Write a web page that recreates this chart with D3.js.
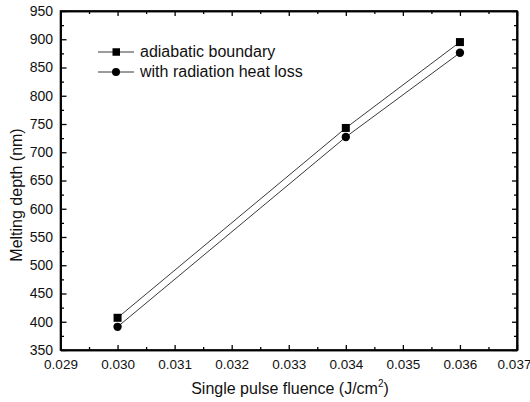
<!DOCTYPE html>
<html>
<head>
<meta charset="utf-8">
<script src="https://cdn.jsdelivr.net/npm/d3@7"></script>
<style>
  html, body { margin: 0; padding: 0; background: #fff; }
  svg { display: block; font-family: "Liberation Sans", Arial, sans-serif; }
</style>
</head>
<body>
<svg id="chart" width="530" height="402"></svg>
<script>
// Melting depth vs single pulse fluence for two boundary conditions
const fluence = [0.030, 0.034, 0.036];
const adiabatic = [407, 743, 895];
const radiation = [391, 727, 876];
const seriesNames = ["adiabatic boundary", "with radiation heat loss"];
const xTicks = [0.029, 0.030, 0.031, 0.032, 0.033, 0.034, 0.035, 0.036, 0.037];
const yTicks = [350, 400, 450, 500, 550, 600, 650, 700, 750, 800, 850, 900, 950];

const svg = d3.select("#chart");
const m = { left: 60.5, right: 517, top: 11, bottom: 350 };

const x = d3.scaleLinear().domain([0.029, 0.037]).range([m.left, m.right]);
const y = d3.scaleLinear().domain([350, 950]).range([m.bottom, m.top]);

const axisColor = "#000";
const g = svg.append("g");

// Minor ticks sit halfway between the labelled ones
const xMinor = d3.range(0, 8).map(i => 0.0295 + i * 0.001);
const yMinor = d3.range(0, 12).map(i => 375 + i * 50);

// Bottom axis, ticks pointing inward
const bottomAxis = g.append("g").attr("transform", `translate(0,${m.bottom})`)
  .call(d3.axisBottom(x).tickValues(xTicks).tickSizeInner(-5).tickSizeOuter(0).tickPadding(9).tickFormat(d3.format(".3f")));
g.append("g").attr("transform", `translate(0,${m.bottom})`)
  .call(d3.axisBottom(x).tickValues(xMinor).tickSizeInner(-3).tickSizeOuter(0).tickFormat(""));
// Top axis
g.append("g").attr("transform", `translate(0,${m.top})`)
  .call(d3.axisTop(x).tickValues(xTicks).tickSizeInner(-5).tickSizeOuter(0).tickFormat(""));
g.append("g").attr("transform", `translate(0,${m.top})`)
  .call(d3.axisTop(x).tickValues(xMinor).tickSizeInner(-3).tickSizeOuter(0).tickFormat(""));
// Left axis
g.append("g").attr("transform", `translate(${m.left},0)`)
  .call(d3.axisLeft(y).tickValues(yTicks).tickSizeInner(-6).tickSizeOuter(0).tickPadding(7.5).tickFormat(d3.format("d")));
g.append("g").attr("transform", `translate(${m.left},0)`)
  .call(d3.axisLeft(y).tickValues(yMinor).tickSizeInner(-3.5).tickSizeOuter(0).tickFormat(""));
// Right axis
g.append("g").attr("transform", `translate(${m.right},0)`)
  .call(d3.axisRight(y).tickValues(yTicks).tickSizeInner(-5).tickSizeOuter(0).tickFormat(""));
g.append("g").attr("transform", `translate(${m.right},0)`)
  .call(d3.axisRight(y).tickValues(yMinor).tickSizeInner(-3).tickSizeOuter(0).tickFormat(""));

g.selectAll(".domain").attr("stroke", axisColor).attr("stroke-width", 1.6);
g.selectAll(".tick line").attr("stroke", axisColor).attr("stroke-width", 1.3);
g.selectAll(".tick text").attr("font-size", 14).attr("fill", "#111")
  .attr("font-family", "'Liberation Sans', Arial, sans-serif");
bottomAxis.selectAll(".tick text").attr("font-size", 13.5);
// Keep the last label inside the page edge
bottomAxis.selectAll(".tick text").filter(d => d === xTicks[xTicks.length - 1]).attr("dx", -3);

// Frame
svg.append("rect").attr("x", m.left).attr("y", m.top)
  .attr("width", m.right - m.left).attr("height", m.bottom - m.top)
  .attr("fill", "none").attr("stroke", axisColor).attr("stroke-width", 1.6);

// Series lines
const line = d3.line().x((d, i) => x(fluence[i])).y(d => y(d));
[adiabatic, radiation].forEach(s => {
  svg.append("path").datum(s).attr("d", line)
    .attr("fill", "none").attr("stroke", "#222").attr("stroke-width", 0.9);
});

// Markers
svg.append("g").selectAll("rect").data(adiabatic).join("rect")
  .attr("x", (d, i) => x(fluence[i]) - 4).attr("y", d => y(d) - 4)
  .attr("width", 8).attr("height", 8).attr("fill", "#000");
svg.append("g").selectAll("circle").data(radiation).join("circle")
  .attr("cx", (d, i) => x(fluence[i])).attr("cy", d => y(d)).attr("r", 4.2).attr("fill", "#000");

// Legend
const leg = svg.append("g");
[0, 1].forEach(i => {
  const ly = 52 + i * 20;
  leg.append("line").attr("x1", 98).attr("x2", 134).attr("y1", ly).attr("y2", ly)
    .attr("stroke", "#222").attr("stroke-width", 0.9);
  if (i === 0) {
    leg.append("rect").attr("x", 112.5).attr("y", ly - 3.75).attr("width", 7.5).attr("height", 7.5).attr("fill", "#000");
  } else {
    leg.append("circle").attr("cx", 116).attr("cy", ly).attr("r", 4).attr("fill", "#000");
  }
  leg.append("text").attr("x", 140).attr("y", ly + 5).attr("font-size", 16).attr("fill", "#111")
    .text(seriesNames[i]);
});

// Axis titles
svg.append("text").attr("transform", `translate(22,195) rotate(-90)`)
  .attr("text-anchor", "middle").attr("font-size", 16).attr("fill", "#111")
  .text("Melting depth (nm)");
const xt = svg.append("text").attr("x", 290).attr("y", 394)
  .attr("text-anchor", "middle").attr("font-size", 16).attr("fill", "#111");
xt.append("tspan").text("Single pulse fluence (J/cm");
xt.append("tspan").attr("dy", -7).attr("font-size", 10).text("2");
xt.append("tspan").attr("dy", 7).text(")");
</script>
</body>
</html>
